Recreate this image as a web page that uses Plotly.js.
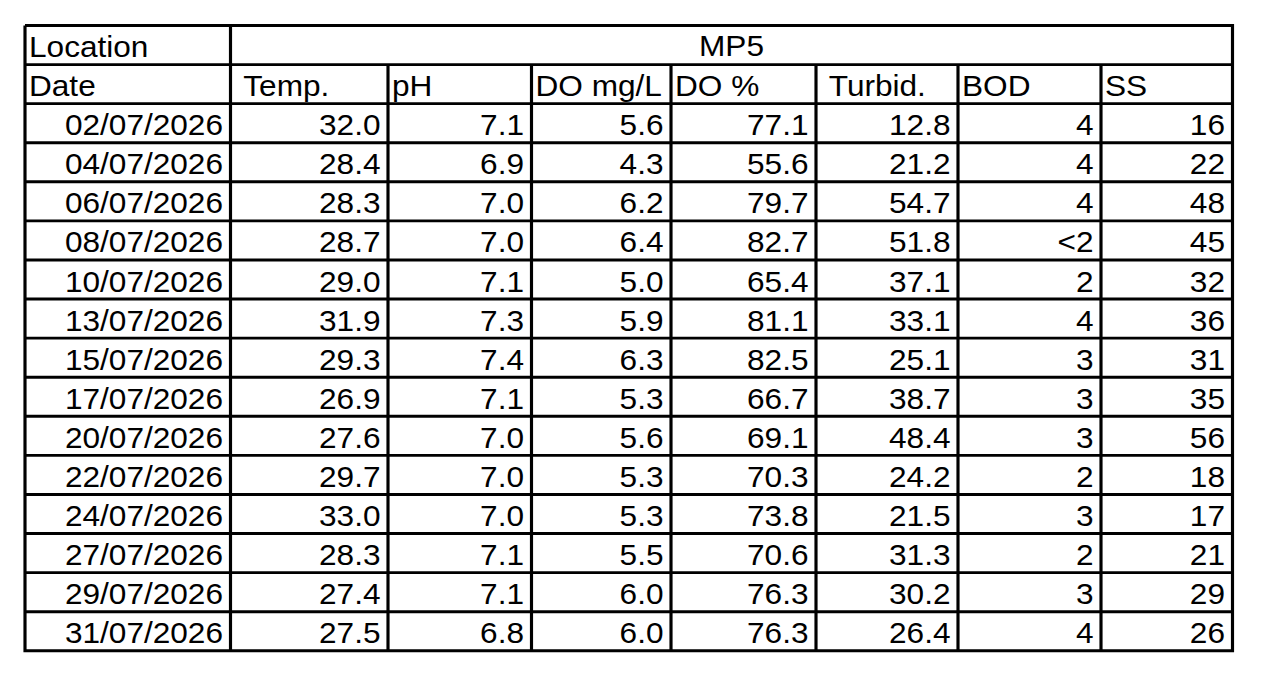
<!DOCTYPE html>
<html>
<head>
<meta charset="utf-8">
<script src="https://cdn.plot.ly/plotly-3.0.1.min.js"></script>
<style>
  html, body { margin: 0; padding: 0; background: #fff; overflow: hidden; }
  #chart { width: 1159px; height: 678px; transform-origin: 0 0; }
</style>
</head>
<body>
<div id="chart"></div>
<script>
// ---------------- data ----------------
const location_label = "Location";
const location_name = "MP5";
const date_label = "Date";
const column_labels = ["\u00a0Temp.", "pH", "DO mg/L", "DO %", "\u00a0Turbid.", "BOD", "SS"];
const dates = ["02/07/2026", "04/07/2026", "06/07/2026", "08/07/2026", "10/07/2026",
               "13/07/2026", "15/07/2026", "17/07/2026", "20/07/2026", "22/07/2026",
               "24/07/2026", "27/07/2026", "29/07/2026", "31/07/2026"];
const temp      = [32.0, 28.4, 28.3, 28.7, 29.0, 31.9, 29.3, 26.9, 27.6, 29.7, 33.0, 28.3, 27.4, 27.5];
const ph        = [7.1, 6.9, 7.0, 7.0, 7.1, 7.3, 7.4, 7.1, 7.0, 7.0, 7.0, 7.1, 7.1, 6.8];
const do_mgl    = [5.6, 4.3, 6.2, 6.4, 5.0, 5.9, 6.3, 5.3, 5.6, 5.3, 5.3, 5.5, 6.0, 6.0];
const do_pct    = [77.1, 55.6, 79.7, 82.7, 65.4, 81.1, 82.5, 66.7, 69.1, 70.3, 73.8, 70.6, 76.3, 76.3];
const turbidity = [12.8, 21.2, 54.7, 51.8, 37.1, 33.1, 25.1, 38.7, 48.4, 24.2, 21.5, 31.3, 30.2, 26.4];
const bod       = ["4", "4", "4", "<2", "2", "4", "3", "3", "3", "2", "3", "2", "3", "4"];
const ss        = [16, 22, 48, 45, 32, 36, 31, 35, 56, 18, 17, 21, 29, 26];

// ---------------- layout geometry (reference pixel space) ----------------
const W = 1263, H = 678;
const plotW = 1159;                 // drawn narrower, then stretched to W (wide type, as in the reference)
const stretch = W / plotW;
document.getElementById("chart").style.transform = "scaleX(" + stretch + ")";

const colEdges = [25, 230.5, 388, 531.5, 671, 816, 958, 1101, 1232.5];
const tableTop = 25.5;
const rowH = 39.08;
const nRows = 2 + dates.length;
const rowEdges = [];
for (let i = 0; i <= nRows; i++) rowEdges.push(tableTop + i * rowH);
const baseOffset = 7.5;      // baseline above row bottom
const fontSize = 29;
const padL = 4, padR = 7.5;
const yText = r => rowEdges[r + 1] - baseOffset - 0.25 * fontSize;  // "middle" text: baseline = y + 0.25*fs

// ---------------- grid lines ----------------
const gx = [], gy = [];
function seg(x0, y0, x1, y1) { gx.push(x0, x1, null); gy.push(y0, y1, null); }
const L = colEdges[0], R = colEdges[colEdges.length - 1];
const T = rowEdges[0], B = rowEdges[nRows];
for (let r = 1; r < nRows; r++) seg(L, rowEdges[r], R, rowEdges[r]);
seg(colEdges[1], T, colEdges[1], B);
for (let c = 2; c < colEdges.length - 1; c++) seg(colEdges[c], rowEdges[1], colEdges[c], B);
gx.push(L, R, R, L, L, null); gy.push(T, T, B, B, T, null);

const font = { family: "Liberation Sans, Arial, Helvetica, sans-serif", size: fontSize, color: "#000" };
const traces = [];
traces.push({
  type: "scatter", mode: "lines", x: gx, y: gy,
  line: { color: "#000", width: 2.9 }, hoverinfo: "skip", showlegend: false
});

// header texts (left aligned)
const hx = [colEdges[0] + padL, colEdges[0] + padL];
const hy = [yText(0), yText(1)];
const ht = [location_label, date_label];
column_labels.forEach((lab, i) => { hx.push(colEdges[i + 1] + padL); hy.push(yText(1)); ht.push(lab); });
traces.push({
  type: "scatter", mode: "text", x: hx, y: hy, text: ht,
  textposition: "middle right", textfont: font, hoverinfo: "skip", showlegend: false
});

// location name (centered over all parameter columns)
traces.push({
  type: "scatter", mode: "text",
  x: [(colEdges[1] + R) / 2], y: [yText(0) - 1.5], text: [location_name],
  textposition: "middle center", textfont: font, hoverinfo: "skip", showlegend: false
});

// body values (right aligned)
const columns = [
  dates,
  temp.map(v => v.toFixed(1)),
  ph.map(v => v.toFixed(1)),
  do_mgl.map(v => v.toFixed(1)),
  do_pct.map(v => v.toFixed(1)),
  turbidity.map(v => v.toFixed(1)),
  bod,
  ss.map(v => String(v))
];
const bx = [], by = [], bt = [];
columns.forEach((col, c) => {
  col.forEach((val, r) => {
    bx.push(colEdges[c + 1] - padR);
    by.push(yText(r + 2));
    bt.push(val);
  });
});
traces.push({
  type: "scatter", mode: "text", x: bx, y: by, text: bt,
  textposition: "middle left", textfont: font, hoverinfo: "skip", showlegend: false
});

const layout = {
  width: plotW, height: H,
  margin: { l: 0, r: 0, t: 0, b: 0, pad: 0 },
  paper_bgcolor: "#fff", plot_bgcolor: "#fff",
  showlegend: false,
  xaxis: { range: [0, W], visible: false, fixedrange: true },
  yaxis: { range: [H, 0], visible: false, fixedrange: true }
};
Plotly.newPlot("chart", traces, layout, { staticPlot: true, displayModeBar: false });
</script>
</body>
</html>
